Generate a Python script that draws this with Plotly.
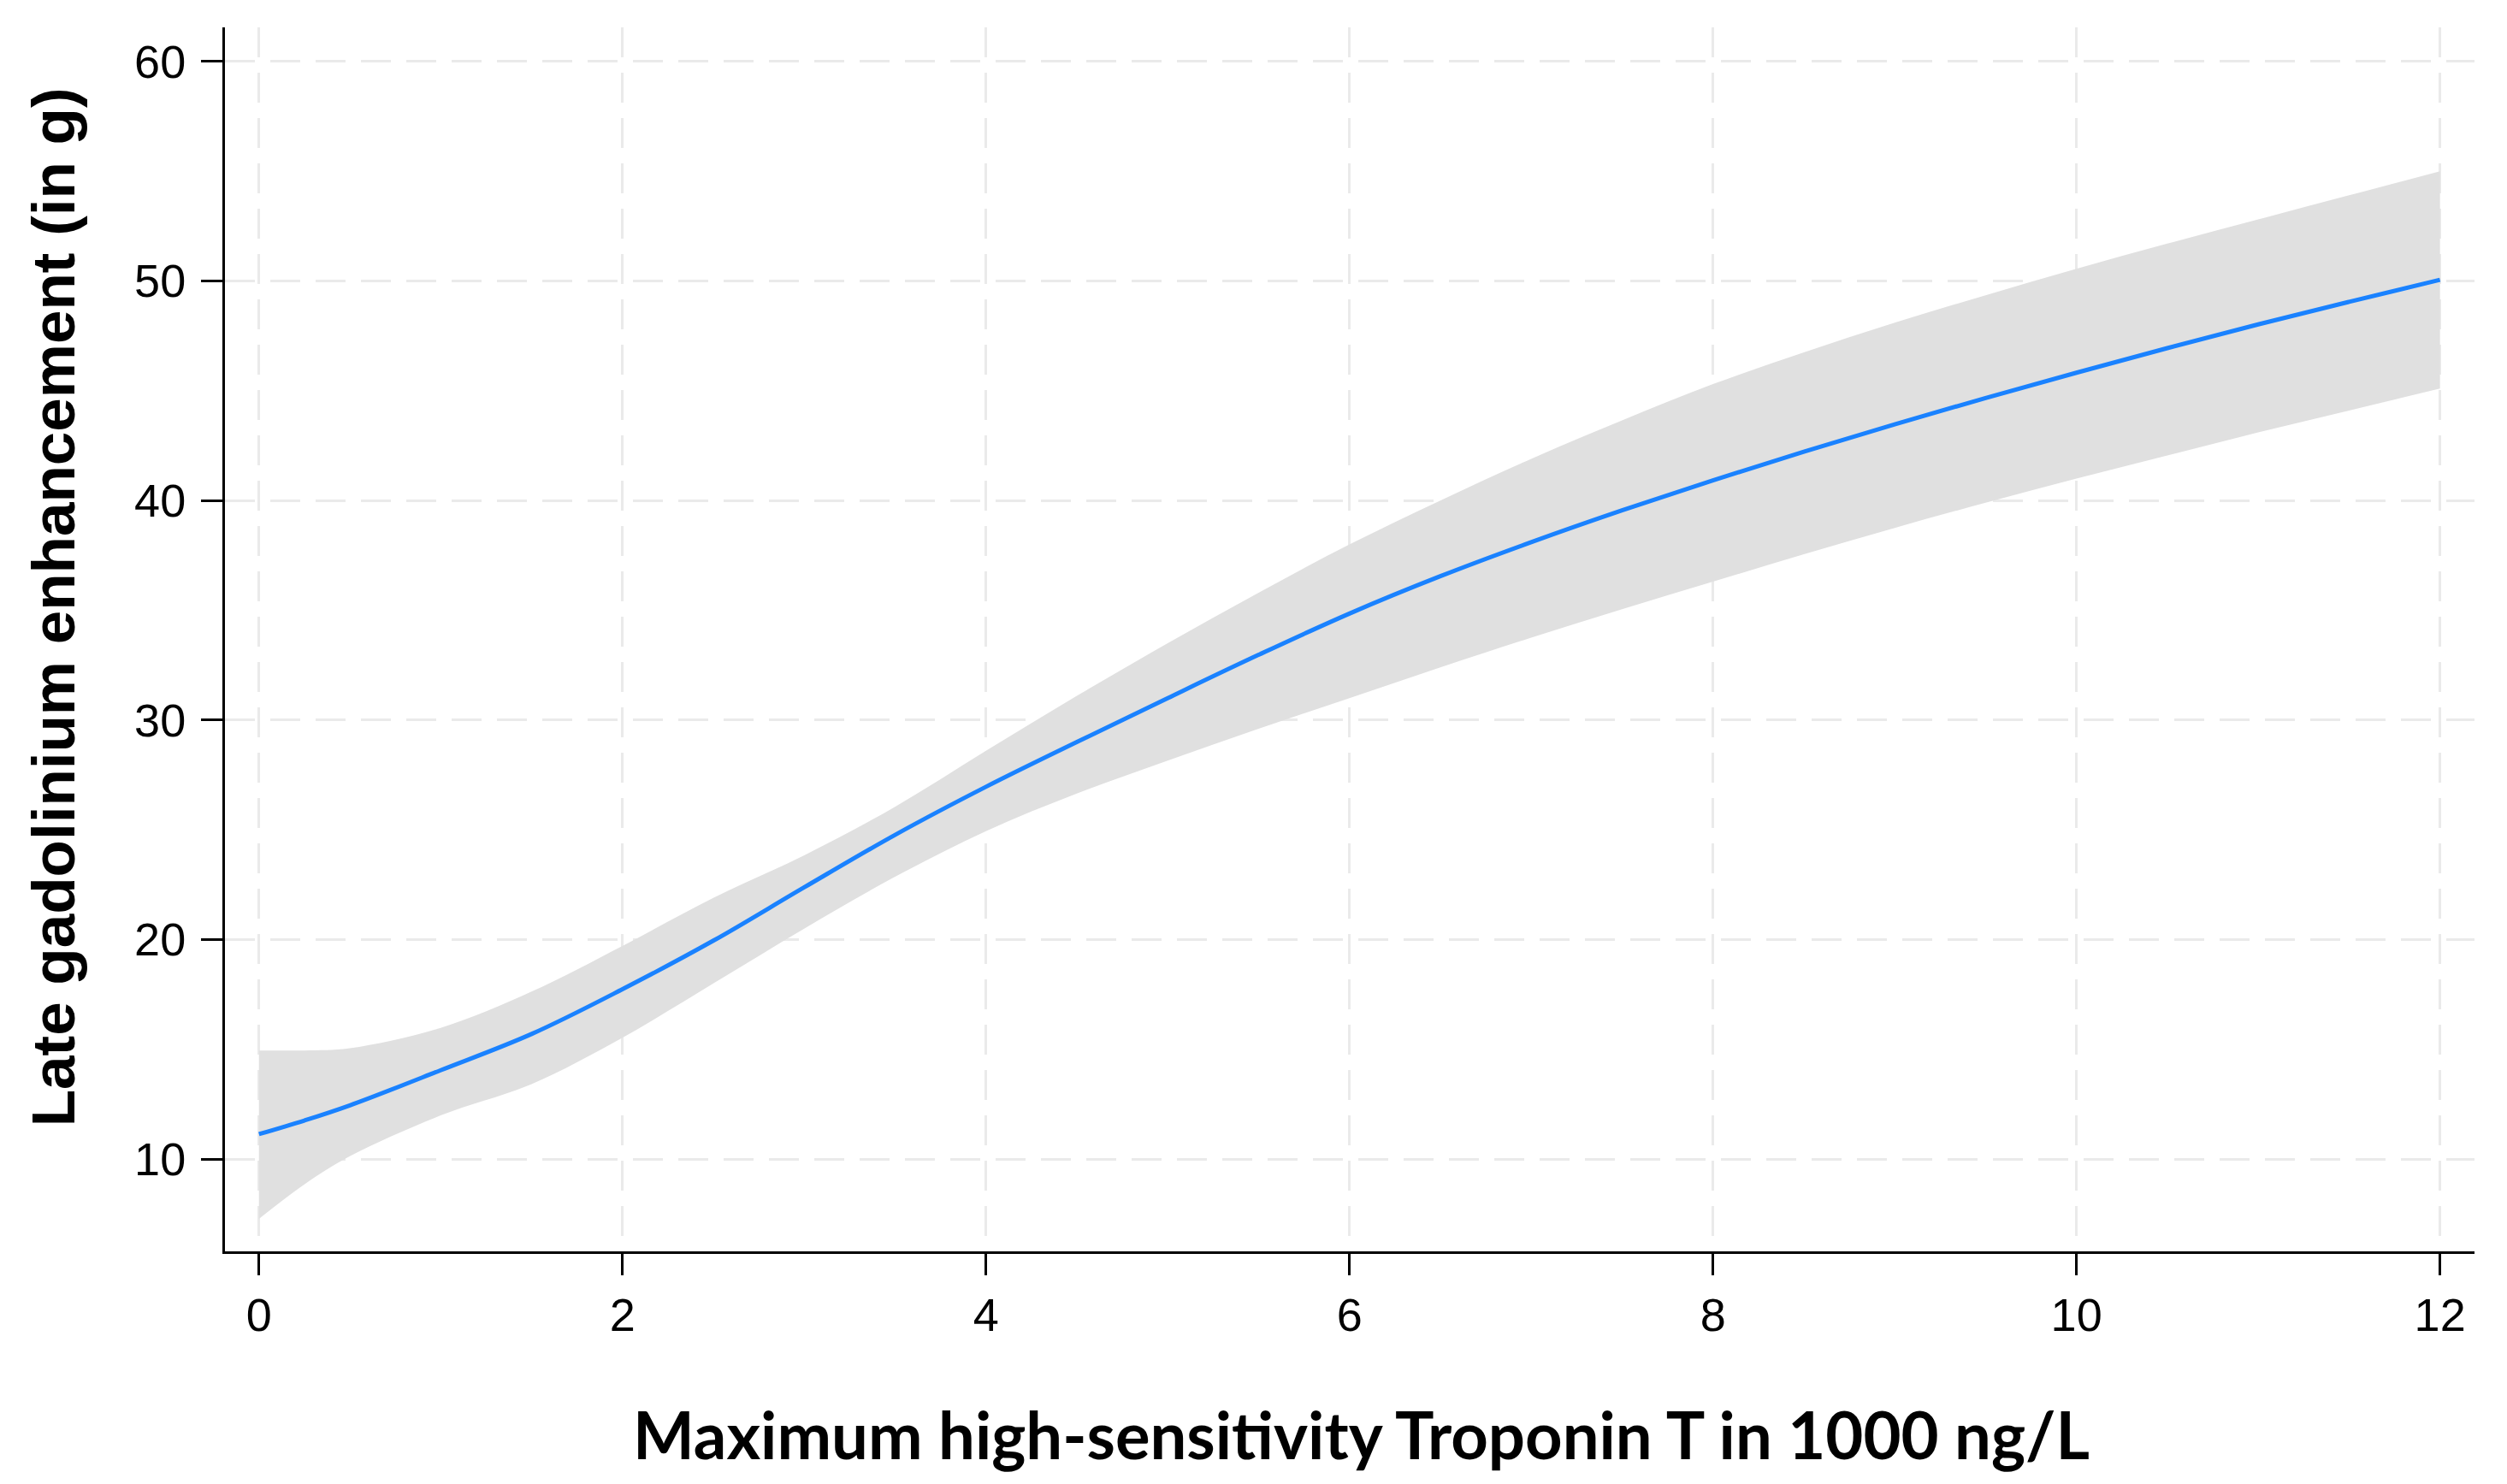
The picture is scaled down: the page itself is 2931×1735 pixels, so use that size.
import plotly.graph_objects as go

# Data
troponin = [0, 0.25, 0.5, 1.0, 1.5, 2.0, 2.5, 3.0, 3.5, 4.0, 4.5, 5.0, 5.5, 6.0,
            6.5, 7.0, 7.5, 8.0, 8.5, 9.0, 9.5, 10.0, 10.5, 11.0, 11.5, 12.0]
lge_fit = [11.14, 11.76, 12.45, 14.05, 15.70, 17.74, 19.95, 22.38, 24.77, 26.96,
           29.0, 31.0, 32.97, 34.85, 36.55, 38.1, 39.55, 40.92, 42.22, 43.47,
           44.67, 45.82, 46.94, 48.02, 49.05, 50.05]
lge_upper = [14.95, 14.95, 15.05, 15.98, 17.63, 19.71, 21.9, 23.84, 26.05, 28.6,
             31.1, 33.5, 35.8, 38.0, 40.0, 41.9, 43.65, 45.3, 46.75, 48.1,
             49.35, 50.55, 51.7, 52.8, 53.9, 55.0]
lge_lower = [7.28, 8.85, 10.13, 11.99, 13.42, 15.53, 18.0, 20.5, 22.86, 24.94,
             26.65, 28.15, 29.6, 31.0, 32.4, 33.75, 35.05, 36.3, 37.55, 38.75,
             39.9, 41.0, 42.05, 43.1, 44.1, 45.1]
x_ticks = [0, 2, 4, 6, 8, 10, 12]
y_ticks = [10, 20, 30, 40, 50, 60]
x_title = "Maximum high-sensitivity Troponin T in 1000 ng/L"
y_title = "Late gadolinium enhancement (in g)"

fig = go.Figure()
fig.add_trace(go.Scatter(x=troponin, y=lge_lower, mode="lines",
                         line=dict(width=0, shape="spline", smoothing=1.0),
                         hoverinfo="skip", showlegend=False))
fig.add_trace(go.Scatter(x=troponin, y=lge_upper, mode="lines",
                         line=dict(width=0, shape="spline", smoothing=1.0),
                         fill="tonexty", fillcolor="rgb(224,224,224)",
                         hoverinfo="skip", showlegend=False))
fig.add_trace(go.Scatter(x=troponin, y=lge_fit, mode="lines",
                         line=dict(color="#1a82ff", width=5, shape="spline", smoothing=1.0),
                         showlegend=False))

tick_font = dict(family="Liberation Sans, Arial, sans-serif", size=54, color="black")
common_axis = dict(
    showline=True, linecolor="black", linewidth=3, mirror=False,
    ticks="outside", ticklen=25, tickwidth=3, tickcolor="black",
    showgrid=True, gridcolor="rgb(234,234,234)", gridwidth=3, griddash="35px,18px",
    zeroline=False, tickfont=tick_font,
)

fig.update_layout(
    width=2931, height=1735,
    margin=dict(l=263, r=38, t=32, b=272),
    paper_bgcolor="white", plot_bgcolor="white",
    xaxis=dict(common_axis, range=[-0.187, 12.19], tickvals=x_ticks,
               ticklabelstandoff=0),
    yaxis=dict(common_axis, range=[5.8, 61.55], tickvals=y_ticks,
               ticklabelstandoff=7),
    annotations=[
        dict(text=x_title, xref="paper", yref="paper", x=0.5053, y=-0.1495,
             xanchor="center", yanchor="middle", showarrow=False,
             font=dict(family="Lato, sans-serif", size=76, color="black", weight="bold")),
        dict(text=y_title, xref="paper", yref="paper", x=-0.0764, y=0.526,
             xanchor="center", yanchor="middle", showarrow=False, textangle=-90,
             font=dict(family="Liberation Sans, Arial, sans-serif", size=71,
                       color="black", weight="bold")),
    ],
)

fig.write_html("out.html", config={"displayModeBar": False},
               post_script="document.body.style.margin='0';document.body.style.overflow='hidden';")
